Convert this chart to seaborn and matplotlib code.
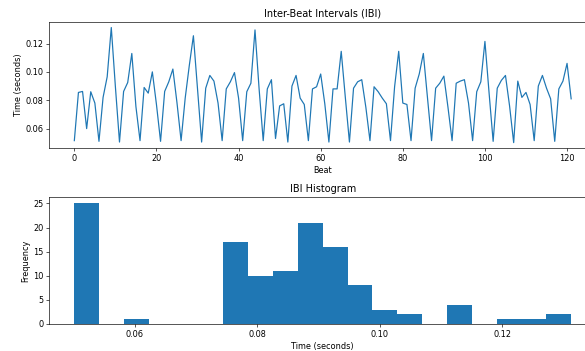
import matplotlib
matplotlib.use("Agg")  # no display in the sandbox

import matplotlib.pyplot as plt
import numpy as np
import seaborn as sns

# Inter-beat intervals in seconds, one per detected beat
IBI = [
    0.0515, 0.0855, 0.0862, 0.0600, 0.0860, 0.0780, 0.0510, 0.0820, 0.0965, 0.1313,
    0.0895, 0.0505, 0.0862, 0.0925, 0.1130, 0.0755, 0.0515, 0.0890, 0.0850, 0.1000,
    0.0770, 0.0510, 0.0862, 0.0930, 0.1020, 0.0782, 0.0515, 0.0815, 0.1045, 0.1255,
    0.0880, 0.0505, 0.0885, 0.0975, 0.0935, 0.0780, 0.0515, 0.0880, 0.0930, 0.0995,
    0.0815, 0.0515, 0.0860, 0.0920, 0.1296, 0.0880, 0.0515, 0.0880, 0.0945, 0.0530,
    0.0760, 0.0775, 0.0505, 0.0900, 0.0975, 0.0815, 0.0770, 0.0515, 0.0880, 0.0895,
    0.0985, 0.0775, 0.0505, 0.0880, 0.0880, 0.1145, 0.0820, 0.0505, 0.0885, 0.0930,
    0.0945, 0.0750, 0.0515, 0.0895, 0.0860, 0.0815, 0.0775, 0.0515, 0.0895, 0.1145,
    0.0780, 0.0770, 0.0515, 0.0885, 0.0985, 0.1130, 0.0820, 0.0515, 0.0885, 0.0920,
    0.0970, 0.0750, 0.0515, 0.0920, 0.0935, 0.0945, 0.0780, 0.0515, 0.0860, 0.0930,
    0.1215, 0.0855, 0.0510, 0.0885, 0.0940, 0.0975, 0.0760, 0.0501, 0.0935, 0.0820,
    0.0855, 0.0770, 0.0515, 0.0900, 0.0975, 0.0885, 0.0810, 0.0510, 0.0880, 0.0935,
    0.1060, 0.0810,
]
BEATS = list(range(len(IBI)))
N_BINS = 20
HIST_XTICKS = [0.06, 0.08, 0.10, 0.12]
HIST_YTICKS = [0, 5, 10, 15, 20, 25]

blue = "#1f77b4"

fig, (ax_line, ax_hist) = plt.subplots(2, 1, figsize=(10, 6), dpi=58.5)
# the original screenshot cuts off the right edge of both panels
fig.subplots_adjust(left=0.0846, right=1.0188, top=0.938, bottom=0.077, hspace=0.387)

sns.lineplot(x=BEATS, y=IBI, color=blue, linewidth=1.5, ax=ax_line)
ax_line.set_title("Inter-Beat Intervals (IBI)")
ax_line.set_xlabel("Beat")
ax_line.set_ylabel("Time (seconds)")

sns.histplot(x=np.array(IBI), bins=N_BINS, color=blue, alpha=1,
             linewidth=0, ax=ax_hist)
ax_hist.set_title("IBI Histogram")
ax_hist.set_xlabel("Time (seconds)")
ax_hist.set_ylabel("Frequency")
ax_hist.set_xticks(HIST_XTICKS)
ax_hist.set_yticks(HIST_YTICKS)

plt.savefig("out.png", dpi=58.5)
plt.close()
